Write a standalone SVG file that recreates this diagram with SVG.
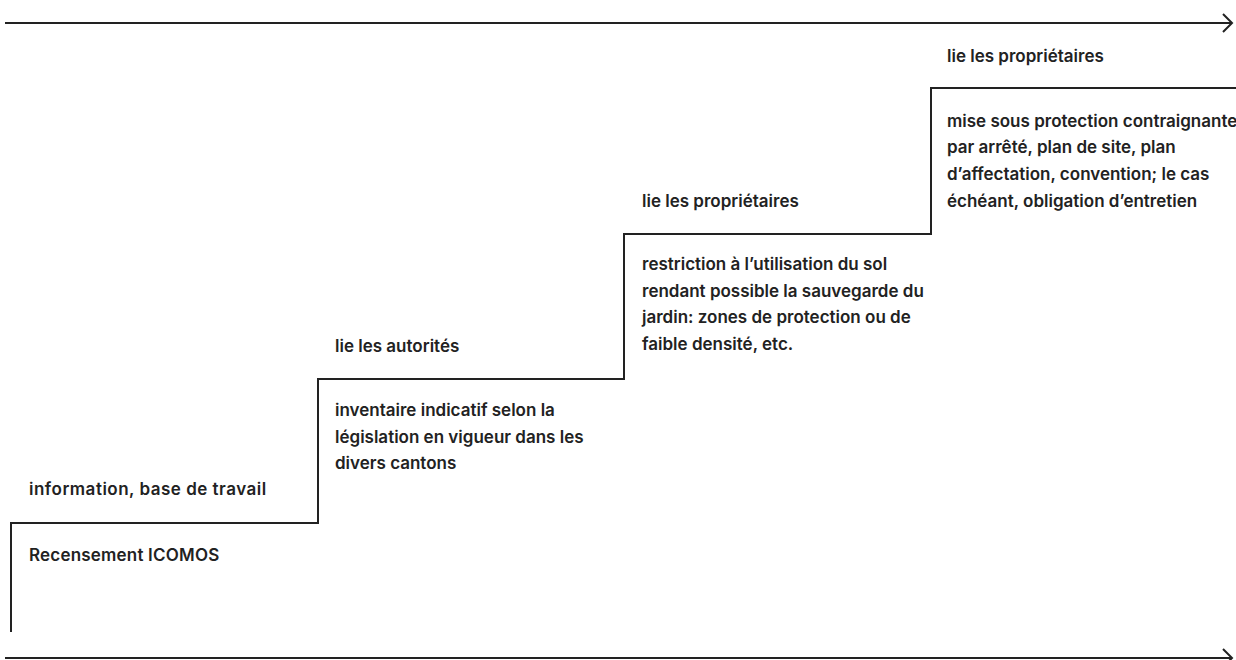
<svg xmlns="http://www.w3.org/2000/svg" width="1236" height="660" viewBox="0 0 1236 660">
<style>
.ln{fill:none;stroke:#222;stroke-width:2}
.t{font-family:Inter,"Liberation Sans",sans-serif;font-size:17px;font-weight:600;fill:#222}
</style>
<rect width="1236" height="660" fill="#fff"/>
<g id="connectors">
<path class="ln" d="M5 23H1232"/>
<path class="ln" d="M1223 14L1232 23L1223 32"/>
<path class="ln" d="M5 658H1232"/>
<path class="ln" d="M1223 649L1232 658L1223 667"/>
<path class="ln" d="M11 632V523H318V379H624V234H931V88H1236"/>
</g>
<g id="step1">
<text class="t" x="29" y="495" letter-spacing="0.5">information, base de travail</text>
<text class="t" x="29" y="561" letter-spacing="0.2">Recensement ICOMOS</text>
</g>
<g id="step2">
<text class="t" x="335" y="352">lie les autorités</text>
<text class="t" x="335" y="416">inventaire indicatif selon la</text>
<text class="t" x="335" y="443">législation en vigueur dans les</text>
<text class="t" x="335" y="469">divers cantons</text>
</g>
<g id="step3">
<text class="t" x="642" y="207">lie les propriétaires</text>
<text class="t" x="642" y="270">restriction à l’utilisation du sol</text>
<text class="t" x="642" y="297">rendant possible la sauvegarde du</text>
<text class="t" x="642" y="323">jardin: zones de protection ou de</text>
<text class="t" x="642" y="350">faible densité, etc.</text>
</g>
<g id="step4">
<text class="t" x="947" y="62">lie les propriétaires</text>
<text class="t" x="947" y="127">mise sous protection contraignante</text>
<text class="t" x="947" y="153">par arrêté, plan de site, plan</text>
<text class="t" x="947" y="180">d’affectation, convention; le cas</text>
<text class="t" x="947" y="207">échéant, obligation d’entretien</text>
</g>
</svg>
